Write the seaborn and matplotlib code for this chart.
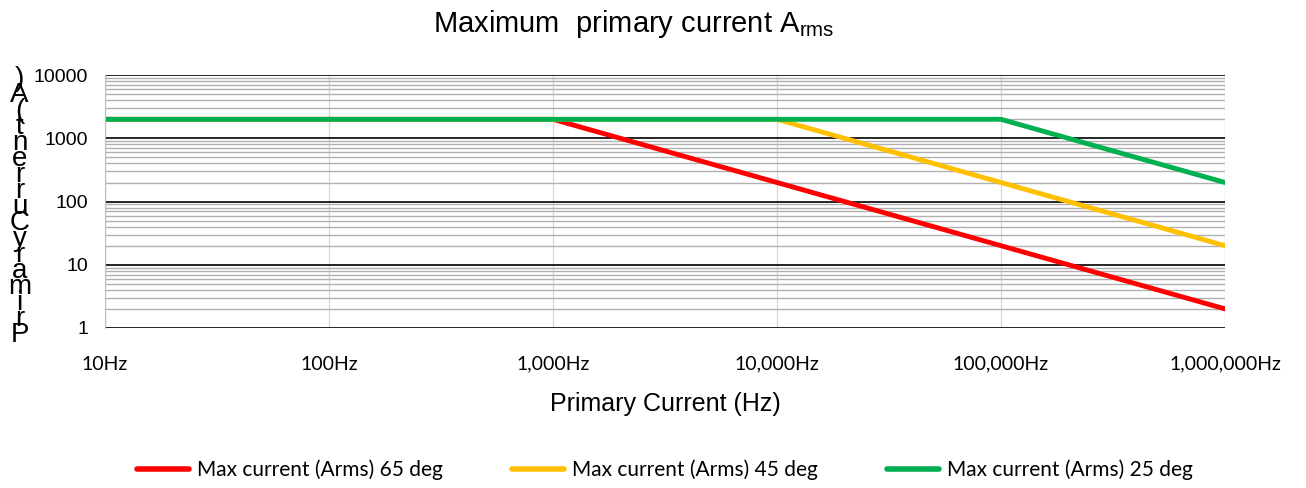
import numpy as np
import pandas as pd
import matplotlib
matplotlib.use("Agg")
import matplotlib.pyplot as plt
import seaborn as sns
from matplotlib.ticker import FixedLocator, LogLocator, NullFormatter

freq = [10, 100, 1000, 10000, 100000, 1000000]
red_65 = [2000, 2000, 2000, 200, 20, 2]
yellow_45 = [2000, 2000, 2000, 2000, 200, 20]
green_25 = [2000, 2000, 2000, 2000, 2000, 200]
series_names = ["Max current (Arms) 65 deg", "Max current (Arms) 45 deg", "Max current (Arms) 25 deg"]
x_ticklabels = ["10Hz", "100Hz", "1,000Hz", "10,000Hz", "100,000Hz", "1,000,000Hz"]
y_ticks = [1, 10, 100, 1000, 10000]
colors = ["#FF0000", "#FFC000", "#00B050"]

sns.set_style("white")
plt.rcParams["font.family"] = ["Liberation Sans", "DejaVu Sans"]
plt.rcParams["mathtext.fontset"] = "custom"
plt.rcParams["mathtext.rm"] = "Liberation Sans"
plt.rcParams["text.color"] = "black"
plt.rcParams["axes.labelcolor"] = "black"
plt.rcParams["xtick.color"] = "black"
plt.rcParams["ytick.color"] = "black"

df = pd.DataFrame({
    "freq": freq * 3,
    "current": red_65 + yellow_45 + green_25,
    "series": [series_names[0]] * 6 + [series_names[1]] * 6 + [series_names[2]] * 6,
})

fig = plt.figure(figsize=(13.06, 4.88), dpi=100)
ax = fig.add_axes([0.0804, 0.328, 0.8576, 0.518])

ax.set_xscale("log")
ax.set_yscale("log")
ax.set_xlim(10, 1e6)
ax.set_ylim(1, 10000)

# grid: minor grey, major black on y; light vertical decade lines
ax.yaxis.set_minor_locator(LogLocator(base=10, subs=np.arange(2, 10)))
ax.grid(which="minor", axis="y", color="#b0b0b0", lw=1.0)
ax.grid(which="major", axis="y", color="black", lw=1.2)
ax.grid(which="major", axis="x", color="#d9d9d9", lw=1.0)
ax.set_axisbelow(True)

sns.lineplot(data=df, x="freq", y="current", hue="series", palette=colors,
             linewidth=3.5, ax=ax, legend=True)

ax.xaxis.set_major_locator(FixedLocator(freq))
ax.set_xticklabels(x_ticklabels, fontsize=14, family="Lato")
ax.xaxis.set_minor_formatter(NullFormatter())
ax.yaxis.set_major_locator(FixedLocator(y_ticks))
ax.set_yticklabels([str(v) for v in y_ticks], fontsize=14)
ax.yaxis.set_minor_formatter(NullFormatter())
ax.tick_params(axis="both", which="both", length=0)
ax.tick_params(axis="x", pad=20)
ax.tick_params(axis="y", pad=12)

for s in ["top", "right", "bottom"]:
    ax.spines[s].set_visible(False)
ax.spines["left"].set_color("#bfbfbf")

ax.set_xlabel("Primary Current (Hz)", fontsize=18, labelpad=14)
ax.set_ylabel("")
fig.text(0.015, 0.575, "\n".join(reversed("PrimaryCurrent(A)")), fontsize=20,
         ha="center", va="center", linespacing=0.5)

fig.text(0.485, 0.95, "Maximum  primary current A$_{\\mathrm{rms}}$", fontsize=21,
         ha="center", va="center")

leg = ax.legend(loc="center", bbox_to_anchor=(0.5, -0.56), ncol=3, frameon=False,
                prop={"family": "Lato", "size": 15},
                handlelength=2.5, columnspacing=3.3, handletextpad=0.4)
for line in leg.get_lines():
    line.set_linewidth(4)

fig.savefig("out.png", dpi=100)
